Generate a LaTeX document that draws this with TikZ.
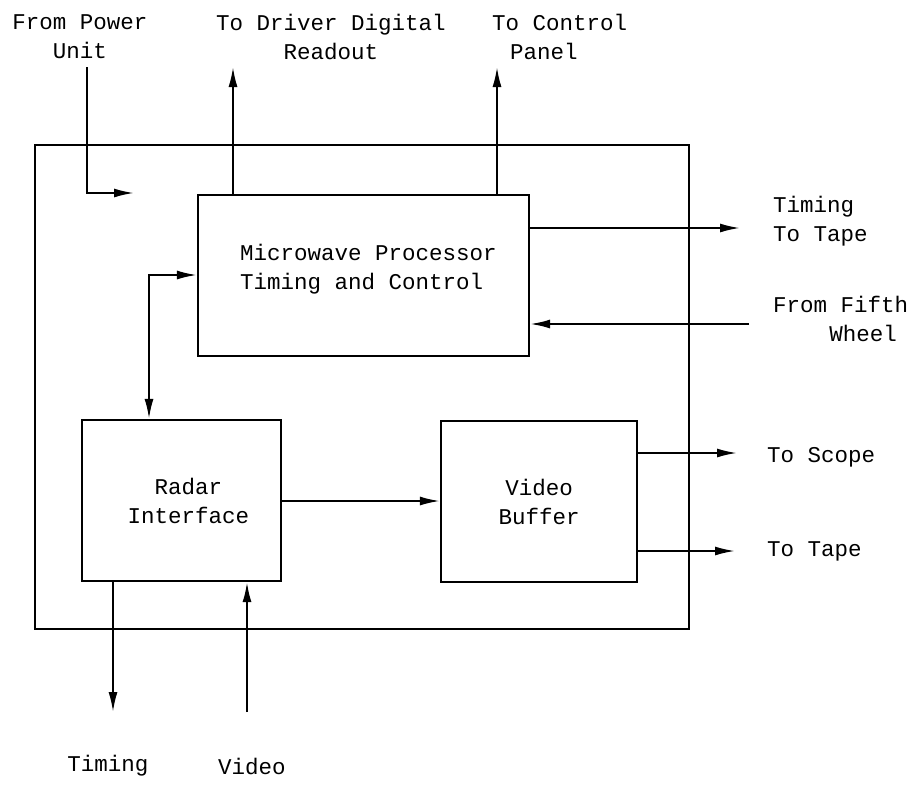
\documentclass[tikz,border=0pt]{standalone}
\usepackage{fontspec}
\setmainfont{Liberation Mono}
\usetikzlibrary{arrows.meta}

\tikzset{
  tip/.tip={Latex[length=20pt,width=9pt]},
  wire/.style={line width=2pt},
  sig/.style={wire, -tip},
  blockbox/.style={draw, line width=2.2pt, inner sep=0pt},
  lbl/.style={font=\fontsize{22.5}{29}\selectfont, inner sep=0pt},
}

\begin{document}
\begin{tikzpicture}[x=1pt, y=-1pt]
\useasboundingbox (0,0) rectangle (912,784);

% enclosure and the three functional blocks
\node[blockbox, minimum width=654pt, minimum height=484pt] (outer) at (362,387) {};
\node[blockbox, minimum width=331pt, minimum height=161pt] (mp) at (363.5,275.5) {};
\node[lbl, align=left, anchor=north west] (mptext) at (240,244)
  {Microwave Processor\\Timing and Control};
\node[blockbox, lbl, align=center, minimum width=199pt, minimum height=161pt] (ri) at (181.5,500.5)
  {\hspace*{14pt}Radar\\\hspace*{14pt}Interface};
\node[blockbox, lbl, align=center, minimum width=196pt, minimum height=161pt] (vb) at (539,501.5)
  {Video\\Buffer};

% external labels
\node[lbl, align=center] (pwr) at (80,37) {From Power\\Unit};
\node[lbl, align=center] (drv) at (331,37) {To Driver Digital\\Readout};
\node[lbl, align=left, anchor=west] (ctl) at (492,37) {To Control\\\hspace*{0.8em}Panel};
\node[lbl, align=left, anchor=west] (ttape) at (773,221) {Timing\\To Tape};
\node[lbl, align=left, anchor=west] (fifth) at (773,319) {From Fifth\\\hspace*{2.5em}Wheel};
\node[lbl, anchor=west] (scope) at (767,457) {To Scope};
\node[lbl, anchor=west] (tape) at (767,551) {To Tape};
\node[lbl] (tim) at (108,766) {Timing};
\node[lbl] (vid) at (252,766) {Video};

% free ends of the external connectors
\coordinate (pwrin) at (87,67);
\coordinate (pwrend) at (134,193);
\coordinate (drvout) at (233,67);
\coordinate (ctlout) at (497,67);
\coordinate (ttout) at (740,228);
\coordinate (fwin) at (749,324);
\coordinate (scout) at (737,453);
\coordinate (tpout) at (735,551);
\coordinate (timout) at (113,712);
\coordinate (vidin) at (247,712);

% connectors
\draw[sig] (pwrin) |- (pwrend);
\draw[sig] (mp.north -| drvout) -- (drvout);
\draw[sig] (mp.north -| ctlout) -- (ctlout);
\draw[sig] (mp.east |- ttout) -- (ttout);
\draw[sig] (fwin) -- (mp.east |- fwin);
\draw[wire, tip-tip] (ri.north -| 149,0) |- (mp.west |- 0,275);
\draw[sig] (ri.east |- 0,501) -- (vb.west |- 0,501);
\draw[sig] (vb.east |- scout) -- (scout);
\draw[sig] (vb.east |- tpout) -- (tpout);
\draw[sig] (ri.south -| timout) -- (timout);
\draw[sig] (vidin) -- (ri.south -| vidin);
\end{tikzpicture}
\end{document}
